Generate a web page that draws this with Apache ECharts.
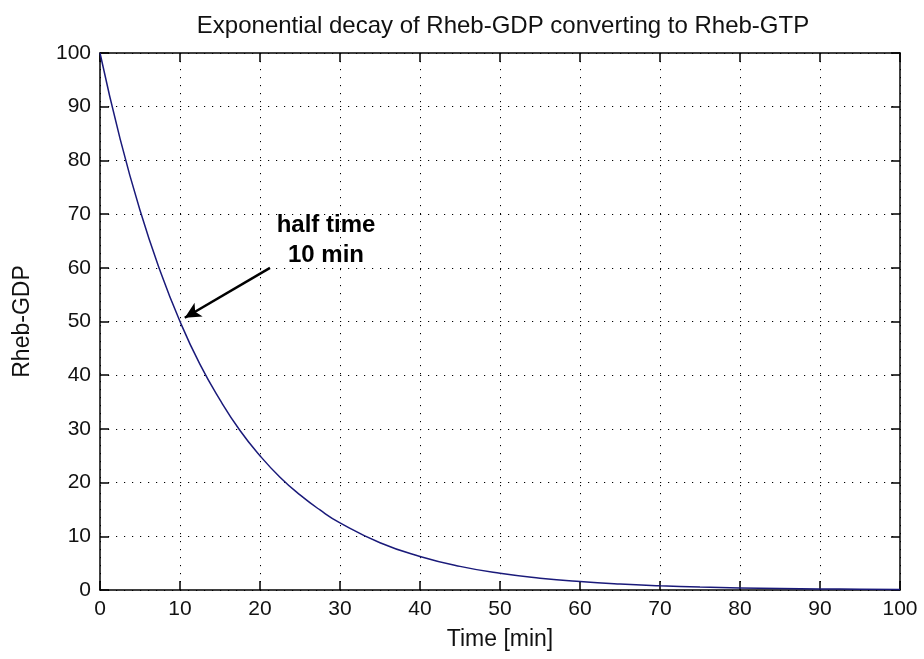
<!DOCTYPE html>
<html>
<head>
<meta charset="utf-8">
<script src="https://cdn.jsdelivr.net/npm/echarts@6/dist/echarts.min.js"></script>
<style>html,body{margin:0;padding:0;background:#fff}#c{width:924px;height:659px}</style>
</head>
<body>
<div id="c"></div>
<script>
var times = [0, 2.5, 5, 7.5, 10, 12.5, 15, 17.5, 20, 22.5, 25, 27.5, 30, 35, 40, 45, 50, 55, 60, 65, 70, 75, 80, 85, 90, 95, 100];
var rhebGDP = [100, 84.1, 70.7, 59.5, 50, 42.0, 35.4, 29.7, 25, 21.0, 17.7, 14.9, 12.5, 8.8, 6.25, 4.4, 3.1, 2.2, 1.56, 1.1, 0.78, 0.55, 0.39, 0.28, 0.2, 0.14, 0.1];
var xTicks = [0, 10, 20, 30, 40, 50, 60, 70, 80, 90, 100];
var yTicks = [0, 10, 20, 30, 40, 50, 60, 70, 80, 90, 100];
var arrowFrom = [21.25, 60];
var arrowTo = [10.6, 50.7];
var annotationPos = [28.25, 65.2];
var annotationText = 'half time\n10 min';
var titleText = 'Exponential decay of Rheb-GDP converting to Rheb-GTP';
var xName = 'Time [min]';
var yName = 'Rheb-GDP';

var FONT = 'Liberation Sans';
var chart = echarts.init(document.getElementById('c'), null, {renderer: 'canvas'});
var gridLine = {show: true, lineStyle: {color: '#000', width: 1, type: [1.2, 6.8]}};
var axisLine = {show: true, onZero: false, lineStyle: {color: '#000', width: 1.5}};
var tick = {show: true, inside: true, length: 9, lineStyle: {color: '#000', width: 1.5}};
function axisBase(extra) {
  var o = {type: 'value', min: 0, max: 100, interval: 10, axisLine: axisLine, axisTick: tick, splitLine: {show: false}};
  for (var k in extra) o[k] = extra[k];
  return o;
}
chart.setOption({
  animation: false,
  backgroundColor: '#fff',
  title: {text: titleText, left: 498, top: 9, textAlign: 'center',
    textStyle: {fontFamily: FONT, fontSize: 24, fontWeight: 'normal', color: '#111'}},
  grid: {left: 100, right: 24, top: 53, bottom: 69, containLabel: false},
  xAxis: [
    axisBase({position: 'bottom', splitLine: gridLine, name: xName, nameLocation: 'middle', nameGap: 38,
      nameTextStyle: {fontFamily: FONT, fontSize: 23, color: '#111'},
      axisLabel: {margin: 9, fontFamily: FONT, fontSize: 21, color: '#111',
        formatter: function (v) { return xTicks.indexOf(v) >= 0 ? String(v) : ''; }}}),
    axisBase({position: 'top', axisLabel: {show: false}})
  ],
  yAxis: [
    axisBase({position: 'left', splitLine: gridLine, name: yName, nameLocation: 'middle', nameGap: 66,
      nameTextStyle: {fontFamily: FONT, fontSize: 23, color: '#111'},
      axisLabel: {margin: 9, fontFamily: FONT, fontSize: 21, color: '#111',
        formatter: function (v) { return yTicks.indexOf(v) >= 0 ? String(v) : ''; }}}),
    axisBase({position: 'right', axisLabel: {show: false}})
  ],
  series: [{
    type: 'line',
    data: times.map(function (t, i) { return [t, rhebGDP[i]]; }),
    smooth: true,
    showSymbol: false,
    lineStyle: {color: '#1a1a7a', width: 1.5},
    markLine: {
      silent: true,
      symbol: ['none', 'arrow'],
      symbolSize: [12, 16],
      label: {show: false},
      lineStyle: {color: '#000', width: 2.5, type: 'solid'},
      data: [[{coord: arrowFrom}, {coord: arrowTo}]]
    },
    markPoint: {
      silent: true,
      symbol: 'circle',
      symbolSize: 0,
      data: [{coord: annotationPos}],
      label: {show: true, position: 'inside', formatter: annotationText, fontFamily: FONT, fontWeight: 'bold',
        fontSize: 24, lineHeight: 30, color: '#000', align: 'center'}
    }
  }]
});
</script>
</body>
</html>
